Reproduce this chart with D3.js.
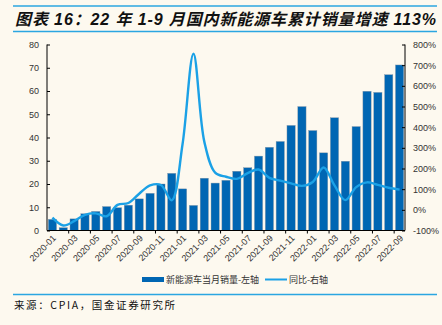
<!DOCTYPE html>
<html><head><meta charset="utf-8">
<script src="https://cdn.jsdelivr.net/npm/d3@7/dist/d3.min.js"></script>
<style>
html,body{margin:0;padding:0;background:#fdf9ef;}
svg{display:block;}
text{font-family:"Liberation Sans",Arial,"Noto Sans CJK SC",sans-serif;}
</style></head>
<body><svg id="c" width="442" height="325"></svg>
<script>
const months = ["2020-01","2020-02","2020-03","2020-04","2020-05","2020-06","2020-07","2020-08","2020-09","2020-10","2020-11","2020-12",
"2021-01","2021-02","2021-03","2021-04","2021-05","2021-06","2021-07","2021-08","2021-09","2021-10","2021-11","2021-12",
"2022-01","2022-02","2022-03","2022-04","2022-05","2022-06","2022-07","2022-08","2022-09"];
const sales = [4.8,1.2,5.0,7.2,8.2,10.3,9.8,10.9,13.6,16.0,20.0,24.6,17.9,10.8,22.5,20.4,21.6,25.5,27.0,32.0,35.8,38.3,45.2,53.3,43.0,33.4,48.5,29.8,44.7,59.9,59.4,67.0,71.2];
const yoy = [-38,-76,-55,-24,-17,-31,24,33,78,118,120,46,320,755,330,180,160,150,178,195,155,141,128,116,135,205,118,47,110,133,121,107,98];
const leftTicks = [0,10,20,30,40,50,60,70,80];
const rightTicks = [-100,0,100,200,300,400,500,600,700,800];
const title = "图表 16：22 年 1-9 月国内新能源车累计销量增速 113%";
const source = "来源：CPIA，国金证券研究所";
const legendBar = "新能源车当月销量-左轴";
const legendLine = "同比-右轴";

const svg = d3.select("#c");
const L = 47, R = 405, T = 44.5, B = 230.5;
const barColor = "#0066b3", lineColor = "#1ba1e6", sepColor = "#2ba6e1";

svg.append("rect").attr("width",442).attr("height",325).attr("fill","#fdf9ef");

// header lines & title
svg.append("line").attr("x1",13).attr("x2",437).attr("y1",6).attr("y2",6).attr("stroke",sepColor).attr("stroke-width",1.5);
svg.append("line").attr("x1",13).attr("x2",437).attr("y1",31.5).attr("y2",31.5).attr("stroke",sepColor).attr("stroke-width",1.5);
svg.append("text").attr("x",15).attr("y",24.5).text(title)
  .attr("font-size",16).attr("font-weight","bold").attr("font-style","italic").attr("fill","#111")
  .attr("textLength",421).attr("lengthAdjust","spacing")
  .style("font-family","'Liberation Sans','Noto Sans CJK SC',sans-serif");

const x = d3.scaleBand().domain(months).range([L,R]).paddingInner(0.24).paddingOuter(0.12);
const yL = d3.scaleLinear().domain([0,80]).range([B,T]);
const yR = d3.scaleLinear().domain([-100,800]).range([B,T]);

// bars
svg.append("g").selectAll("rect").data(sales).join("rect")
  .attr("x",(d,i)=>x(months[i])).attr("width",x.bandwidth())
  .attr("y",d=>yL(d)).attr("height",d=>B-yL(d))
  .attr("fill",barColor).attr("stroke","#8a9aa8").attr("stroke-width",0.4);

// line
const step = (R-L)/months.length;
const cx = i => L + step*(i+0.5);
const line = d3.line().x((d,i)=>cx(i)).y(d=>yR(d)).curve(d3.curveCatmullRom.alpha(0.5));
svg.append("path").datum(yoy).attr("d",line).attr("fill","none").attr("stroke",lineColor).attr("stroke-width",2.4);

// left axis
const gl = svg.append("g").attr("transform",`translate(${L},0)`)
  .call(d3.axisLeft(yL).tickValues(leftTicks).tickSize(-3).tickPadding(8));
gl.select(".domain").attr("stroke","#000").attr("d",`M0,${T}V${B}`);
gl.selectAll(".tick line").attr("stroke","#000");
gl.selectAll("text").attr("font-size",9).attr("fill","#333").style("font-family","'Liberation Sans',Arial,sans-serif");

// right axis
const gr = svg.append("g").attr("transform",`translate(${R},0)`)
  .call(d3.axisRight(yR).tickValues(rightTicks).tickSize(-3).tickPadding(8).tickFormat(d=>d+"%"));
gr.select(".domain").attr("stroke","#000").attr("d",`M0,${T}V${B}`);
gr.selectAll(".tick line").attr("stroke","#000");
gr.selectAll("text").attr("font-size",9).attr("fill","#333").style("font-family","'Liberation Sans',Arial,sans-serif");

// bottom axis
svg.append("line").attr("x1",L).attr("x2",R).attr("y1",B).attr("y2",B).attr("stroke","#000");
const gb = svg.append("g");
months.forEach((m,i)=>{
  if(i%2===0 && i>0){
    const tx = L + step*i;
    gb.append("line").attr("x1",tx).attr("x2",tx).attr("y1",B).attr("y2",B+3).attr("stroke","#000");
  }
});
gb.selectAll("text").data(months.filter((m,i)=>i%2===0)).join("text")
  .attr("transform",d=>`translate(${cx(months.indexOf(d))+2},${B+6}) rotate(-45)`)
  .attr("text-anchor","end").attr("dy","0.35em")
  .attr("font-size",9).attr("fill","#333").text(d=>d);

// legend
svg.append("rect").attr("x",142).attr("y",277).attr("width",22).attr("height",5).attr("fill",barColor);
svg.append("text").attr("x",166).attr("y",283).attr("font-size",9).attr("fill","#333").text(legendBar)
  .style("font-family","'Noto Sans CJK SC',sans-serif");
svg.append("line").attr("x1",265).attr("x2",287).attr("y1",279.5).attr("y2",279.5).attr("stroke",lineColor).attr("stroke-width",2);
svg.append("text").attr("x",289).attr("y",283).attr("font-size",9).attr("fill","#333").text(legendLine)
  .style("font-family","'Noto Sans CJK SC',sans-serif");

// footer
svg.append("line").attr("x1",13).attr("x2",437).attr("y1",294.5).attr("y2",294.5).attr("stroke",sepColor).attr("stroke-width",1.5);
svg.append("text").attr("x",14).attr("y",309).attr("font-size",10.5).attr("fill","#111").text(source)
  .attr("textLength",161).attr("lengthAdjust","spacing")
  .style("font-family","'Noto Sans CJK SC',sans-serif");
</script></body></html>
